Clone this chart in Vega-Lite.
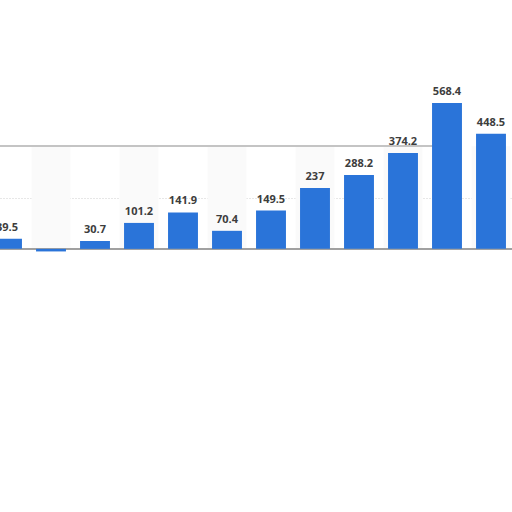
{
  "$schema": "https://vega.github.io/schema/vega-lite/v6.json",
  "autosize": "none",
  "width": 528,
  "height": 159,
  "padding": {"left": -15, "top": 95, "right": 0, "bottom": 0},
  "background": "white",
  "config": {"view": {"stroke": null}},
  "data": {
    "values": [
      {"i": 1, "value": 39.5},
      {"i": 2, "value": -10},
      {"i": 3, "value": 30.7},
      {"i": 4, "value": 101.2},
      {"i": 5, "value": 141.9},
      {"i": 6, "value": 70.4},
      {"i": 7, "value": 149.5},
      {"i": 8, "value": 237},
      {"i": 9, "value": 288.2},
      {"i": 10, "value": 374.2},
      {"i": 11, "value": 568.4},
      {"i": 12, "value": 448.5}
    ]
  },
  "encoding": {
    "x": {
      "field": "i",
      "type": "ordinal",
      "axis": null,
      "scale": {"paddingInner": 0.32, "paddingOuter": 0.16}
    }
  },
  "layer": [
    {
      "transform": [{"filter": "datum.i % 2 == 0"}],
      "mark": {"type": "bar", "color": "#fafafa", "width": {"band": 1.3}},
      "encoding": {
        "y": {"datum": 0, "type": "quantitative"},
        "y2": {"datum": 400}
      }
    },
    {
      "mark": {"type": "rule", "color": "#c4c4c4", "strokeWidth": 1.5},
      "encoding": {
        "y": {"datum": 400, "type": "quantitative"},
        "x": {"value": 0},
        "x2": {"value": 450}
      }
    },
    {
      "mark": {"type": "rule", "color": "#a0a0a0", "strokeWidth": 1},
      "encoding": {
        "y": {"datum": 0, "type": "quantitative"},
        "x": {"value": 0},
        "x2": {"value": 528}
      }
    },
    {
      "mark": {"type": "bar", "color": "#2a74d9"},
      "encoding": {
        "y": {
          "field": "value",
          "type": "quantitative",
          "scale": {"domain": [-20, 600], "nice": false, "zero": false},
          "axis": {
            "title": null,
            "labels": false,
            "ticks": false,
            "domain": false,
            "values": [200],
            "grid": true,
            "gridColor": "#cfcfcf",
            "gridDash": [1, 2]
          }
        },
        "y2": {"datum": 0}
      }
    },
    {
      "transform": [{"filter": "datum.value > 0"}],
      "mark": {
        "type": "text",
        "baseline": "bottom",
        "dy": -6,
        "font": "Open Sans",
        "fontWeight": "bold",
        "fontSize": 11,
        "color": "#3d3d3d"
      },
      "encoding": {
        "y": {"field": "value", "type": "quantitative"},
        "text": {"field": "value", "type": "quantitative", "format": ".4~"}
      }
    }
  ]
}
